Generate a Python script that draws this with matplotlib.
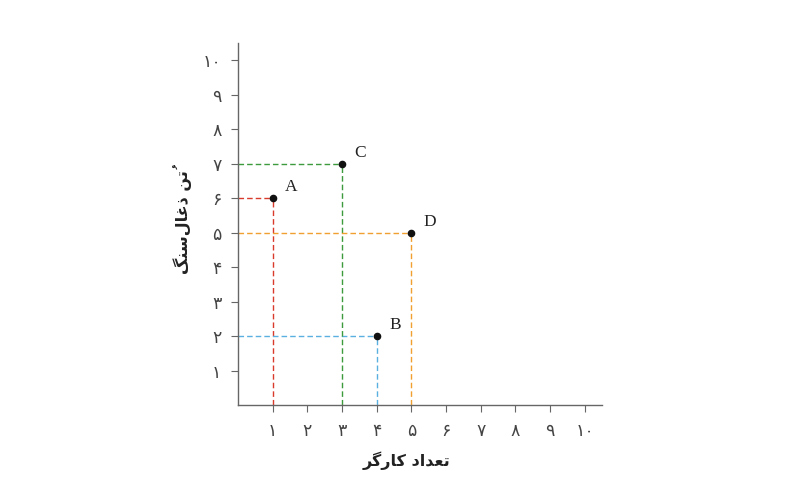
import matplotlib
matplotlib.use("Agg")
import matplotlib.pyplot as plt

# data
labels = ["A", "B", "C", "D"]
workers = [1, 4, 3, 5]
coal = [6, 2, 7, 5]
colors = ["#d83a2c", "#5ab0e0", "#3d9a3d", "#f0a030"]
tick_vals = list(range(1, 11))
tick_labels = ["۱", "۲", "۳", "۴", "۵", "۶", "۷", "۸", "۹", "۱۰"]
# pre-shaped (visual order) Persian labels
xlabel_text = "\uFEAE\uFB94\uFEAD\uFE8E\uFB90 \uFEA9\uFE8D\uFEAA\uFECC\uFE97"  # تعداد کارگر
ylabel_text = "\uFB93\uFEE8\uFEB3\uFEDD\uFE8E\uFECF\uFEAB \uFEE6\uFE97\u064F"  # تُن ذغال‌سنگ

fig = plt.figure(figsize=(8.1, 4.97), dpi=100)
ax = fig.add_axes([238/810, 1-405/497, (602-238)/810, (405-43)/497])

for x, y, c in zip(workers, coal, colors):
    ax.plot([0, x], [y, y], linestyle=(0, (4, 2.2)), color=c, lw=1.0)
    ax.plot([x, x], [0, y], linestyle=(0, (4, 2.2)), color=c, lw=1.0)
ax.scatter(workers, coal, s=20, color="#111111", zorder=5)
for x, y, l in zip(workers, coal, labels):
    ax.annotate(l, (x, y), xytext=(9, 5), textcoords="offset points",
                fontsize=12.5, family="Liberation Serif", color="#222222")

ax.set_xlim(0, 10.5)
ax.set_ylim(0, 10.5)
ax.set_xticks(tick_vals)
ax.set_xticklabels(tick_labels, fontsize=12.5, color="#444444", family="DejaVu Sans")
ax.set_yticks(tick_vals)
ax.set_yticklabels(tick_labels, fontsize=12.5, color="#444444", family="DejaVu Sans")
for s in ["top", "right"]:
    ax.spines[s].set_visible(False)
for s in ["left", "bottom"]:
    ax.spines[s].set_color("#666666")
    ax.spines[s].set_linewidth(1.0)
ax.tick_params(direction="out", length=5, color="#666666", pad=7)

fig.text(406/810, 1-461/497, xlabel_text, ha="center", va="center",
         fontsize=11.5, fontweight="bold", family="DejaVu Sans", color="#222222")
fig.text(183/810, 1-222/497, ylabel_text, ha="center", va="center", rotation=90,
         fontsize=11.5, fontweight="bold", family="DejaVu Sans", color="#222222")

fig.savefig("out.png", dpi=100)
